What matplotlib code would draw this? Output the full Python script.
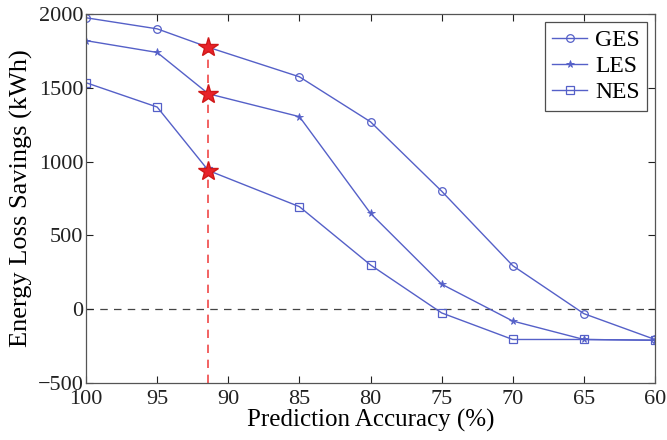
import matplotlib
matplotlib.use("Agg")
import matplotlib.pyplot as plt

x = [100, 95, 91.4, 85, 80, 75, 70, 65, 60]
ges = [1975, 1900, 1775, 1575, 1270, 800, 295, -30, -205]
les = [1820, 1740, 1460, 1305, 650, 170, -80, -205, -210]
nes = [1535, 1370, 940, 695, 300, -25, -205, -205, -210]
star_idx = 2
xticks = [100, 95, 90, 85, 80, 75, 70, 65, 60]
yticks = [-500, 0, 500, 1000, 1500, 2000]

plt.rcParams['font.family'] = ['Liberation Serif', 'DejaVu Serif']
fig = plt.figure(figsize=(6.67, 4.4), dpi=100)
ax = fig.add_axes([0.129, 0.1295, 0.853, 0.8385])

blue = '#5560c8'
ax.axhline(0, color='#444444', ls=(0, (6, 5)), lw=0.9, zorder=1)
ax.vlines(x[star_idx], -500, ges[star_idx], colors='#f04848', linestyles=(0, (5, 4)), lw=1.2, zorder=1)

ax.plot(x, ges, color=blue, lw=1.0, marker='o', ms=5.5, mfc='none', mec=blue, mew=0.9, label='GES', zorder=2)
ax.plot(x, les, color=blue, lw=1.0, marker='*', ms=5.5, mfc=blue, mec=blue, mew=0.6, label='LES', zorder=2)
ax.plot(x, nes, color=blue, lw=1.0, marker='s', ms=5.5, mfc='none', mec=blue, mew=0.9, label='NES', zorder=2)

for s in (ges, les, nes):
    ax.plot([x[star_idx]], [s[star_idx]], marker='*', ms=15, color='#e8222a', mec='#d01818', ls='none', zorder=3)

ax.set_xlim(100, 60)
ax.set_ylim(-500, 2000)
ax.set_xticks(xticks)
ax.set_yticks(yticks)
ax.tick_params(direction='in', top=True, right=True, labelsize=16, length=5, width=0.8, colors='#222222')
ax.tick_params(axis='x', pad=5)
ax.tick_params(axis='y', pad=2)
for sp in ax.spines.values():
    sp.set_color('#555555')
    sp.set_linewidth(0.9)
ax.set_xlabel('Prediction Accuracy (%)', fontsize=18, labelpad=0)
ax.set_ylabel('Energy Loss Savings (kWh)', fontsize=19, labelpad=3)

leg = ax.legend(loc='upper right', fontsize=17, frameon=True, fancybox=False, edgecolor='#222222',
                handlelength=1.45, borderaxespad=0.35, borderpad=0.3, labelspacing=0.2, handletextpad=0.35)
leg.get_frame().set_linewidth(0.9)

fig.savefig('out.png', dpi=100)
